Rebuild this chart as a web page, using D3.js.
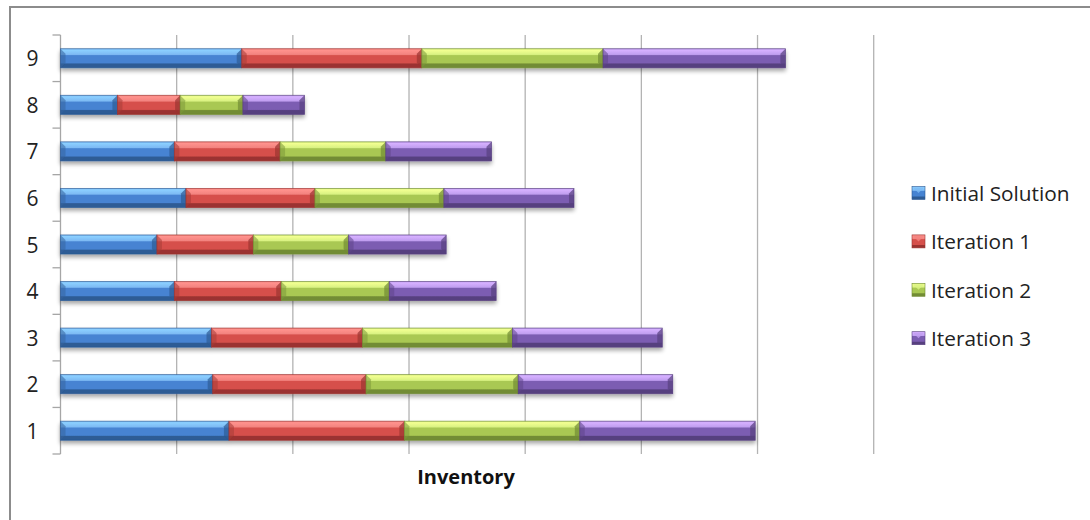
<!DOCTYPE html>
<html>
<head>
<meta charset="utf-8">
<script src="https://cdn.jsdelivr.net/npm/d3@7"></script>
<style>
  html, body { margin: 0; padding: 0; background: #fff; }
  svg { display: block; font-family: "Open Sans", Lato, sans-serif; }
</style>
</head>
<body>
<svg id="chart" width="1090" height="520"></svg>
<script>
// Inventory per solution step, one row per case
const categories = ["1", "2", "3", "4", "5", "6", "7", "8", "9"];
const initialSolution = [14.5, 13.1, 13.0, 9.8, 8.3, 10.8, 9.8, 4.9, 15.6];
const iteration1 = [15.1, 13.2, 13.0, 9.2, 8.3, 11.1, 9.1, 5.4, 15.5];
const iteration2 = [15.1, 13.1, 12.9, 9.3, 8.2, 11.1, 9.1, 5.4, 15.6];
const iteration3 = [15.1, 13.3, 12.9, 9.2, 8.4, 11.2, 9.1, 5.3, 15.7];
const seriesNames = ["Initial Solution", "Iteration 1", "Iteration 2", "Iteration 3"];
const xTicks = [0, 10, 20, 30, 40, 50, 60, 70];
const axisTitle = "Inventory";

const palette = [
  { light: "#7dbaf4", mid: "#4683d2", dark: "#2d5b95", edge: "#35649f" },
  { light: "#f3837f", mid: "#d6504b", dark: "#9b3330", edge: "#a83a36" },
  { light: "#d9f282", mid: "#a9c852", dark: "#728c34", edge: "#7e993a" },
  { light: "#c09ef0", mid: "#7c5db2", dark: "#57407f", edge: "#5f468a" }
];

const svg = d3.select("#chart");
const plot = { left: 60.5, right: 873.7, top: 35, bottom: 454 };

const x = d3.scaleLinear().domain([0, 70]).range([plot.left, plot.right]);
const y = d3.scaleBand().domain(categories).range([plot.bottom, plot.top])
  .paddingInner(0.59).paddingOuter(0.295);

const rows = categories.map((c, i) => ({
  cat: c,
  "Initial Solution": initialSolution[i],
  "Iteration 1": iteration1[i],
  "Iteration 2": iteration2[i],
  "Iteration 3": iteration3[i]
}));
const stacked = d3.stack().keys(seriesNames)(rows);

// outer chart frame
svg.append("rect")
  .attr("x", 10).attr("y", 7).attr("width", 1100).attr("height", 540)
  .attr("fill", "none").attr("stroke", "#8c8c8c").attr("stroke-width", 2);

const defs = svg.append("defs");
const shadow = defs.append("filter").attr("id", "shadow")
  .attr("x", "-5%").attr("y", "-40%").attr("width", "110%").attr("height", "200%");
shadow.append("feGaussianBlur").attr("in", "SourceAlpha").attr("stdDeviation", 2);
shadow.append("feOffset").attr("dx", 0).attr("dy", 3).attr("result", "blur");
shadow.append("feComponentTransfer").append("feFuncA").attr("type", "linear").attr("slope", 0.35);
const merge = shadow.append("feMerge");
merge.append("feMergeNode");
merge.append("feMergeNode").attr("in", "SourceGraphic");

palette.forEach((p, i) => {
  const g = defs.append("linearGradient").attr("id", "grad" + i)
    .attr("x1", 0).attr("y1", 0).attr("x2", 0).attr("y2", 1);
  [[0, p.light], [0.08, d3.color(p.light).brighter(0.3)], [0.3, p.light], [0.36, p.mid],
   [0.74, p.mid], [0.8, p.dark], [1, p.dark]]
    .forEach(([o, c]) => g.append("stop").attr("offset", o).attr("stop-color", c));
});

// vertical gridlines
svg.append("g").selectAll("line")
  .data(xTicks.slice(1))
  .join("line")
  .attr("x1", d => x(d)).attr("x2", d => x(d))
  .attr("y1", plot.top).attr("y2", plot.bottom)
  .attr("stroke", "#b3b3b3").attr("stroke-width", 1.3);

// category axis
const yAxis = svg.append("g").attr("transform", `translate(${plot.left},0)`);
yAxis.append("line")
  .attr("x1", 0).attr("x2", 0).attr("y1", plot.top).attr("y2", plot.bottom)
  .attr("stroke", "#a6a6a6").attr("stroke-width", 1.3);
const bounds = d3.range(categories.length + 1).map(i => plot.bottom - i * y.step());
yAxis.selectAll("line.tick").data(bounds).join("line").attr("class", "tick")
  .attr("x1", -8).attr("x2", 0).attr("y1", d => d).attr("y2", d => d)
  .attr("stroke", "#a6a6a6").attr("stroke-width", 1.3);
yAxis.selectAll("text").data(categories).join("text")
  .attr("x", -28).attr("y", d => y(d) + y.bandwidth() / 2)
  .attr("text-anchor", "middle").attr("dominant-baseline", "central")
  .attr("font-size", 21).attr("fill", "#222")
  .text(d => d);

// beveled stacked bars
const bevel = 5;
const layers = svg.append("g").attr("filter", "url(#shadow)");
stacked.forEach((layer, si) => {
  const p = palette[si];
  const seg = layers.append("g").selectAll("g")
    .data(layer)
    .join("g")
    .attr("transform", d => `translate(${x(d[0])},${y(d.data.cat)})`);
  const h = y.bandwidth();
  seg.append("rect")
    .attr("width", d => x(d[1]) - x(d[0])).attr("height", h)
    .attr("fill", `url(#grad${si})`);
  // left bevel face
  seg.append("path")
    .attr("d", d => `M0,0 L${bevel},${bevel} L${bevel},${h - bevel} L0,${h} Z`)
    .attr("fill", p.edge).attr("opacity", 0.55);
  // right bevel face
  seg.append("path")
    .attr("d", d => {
      const w = x(d[1]) - x(d[0]);
      return `M${w},0 L${w - bevel},${bevel} L${w - bevel},${h - bevel} L${w},${h} Z`;
    })
    .attr("fill", p.dark).attr("opacity", 0.7);
  seg.append("rect")
    .attr("width", d => x(d[1]) - x(d[0])).attr("height", h)
    .attr("fill", "none").attr("stroke", p.dark).attr("stroke-width", 0.8)
    .attr("stroke-opacity", 0.8);
});

// axis title
svg.append("text")
  .attr("x", 466).attr("y", 484)
  .attr("text-anchor", "middle").attr("font-size", 20).attr("font-weight", "bold")
  .attr("fill", "#111").text(axisTitle);

// legend
const legend = svg.append("g").attr("transform", "translate(912,193)");
const items = legend.selectAll("g").data(seriesNames).join("g")
  .attr("transform", (d, i) => `translate(0,${i * 48.4})`);
items.append("rect")
  .attr("x", 0).attr("y", -6.5).attr("width", 13).attr("height", 13)
  .attr("fill", (d, i) => `url(#grad${i})`)
  .attr("stroke", (d, i) => palette[i].dark).attr("stroke-width", 0.6);
items.append("path")
  .attr("d", "M1,-5.5 L12,-5.5 L6.5,0 Z")
  .attr("fill", (d, i) => palette[i].light).attr("opacity", 0.8);
items.append("text")
  .attr("x", 19).attr("y", 0).attr("dominant-baseline", "central")
  .attr("font-size", 20.8).attr("fill", "#222").text(d => d);
</script>
</body>
</html>
